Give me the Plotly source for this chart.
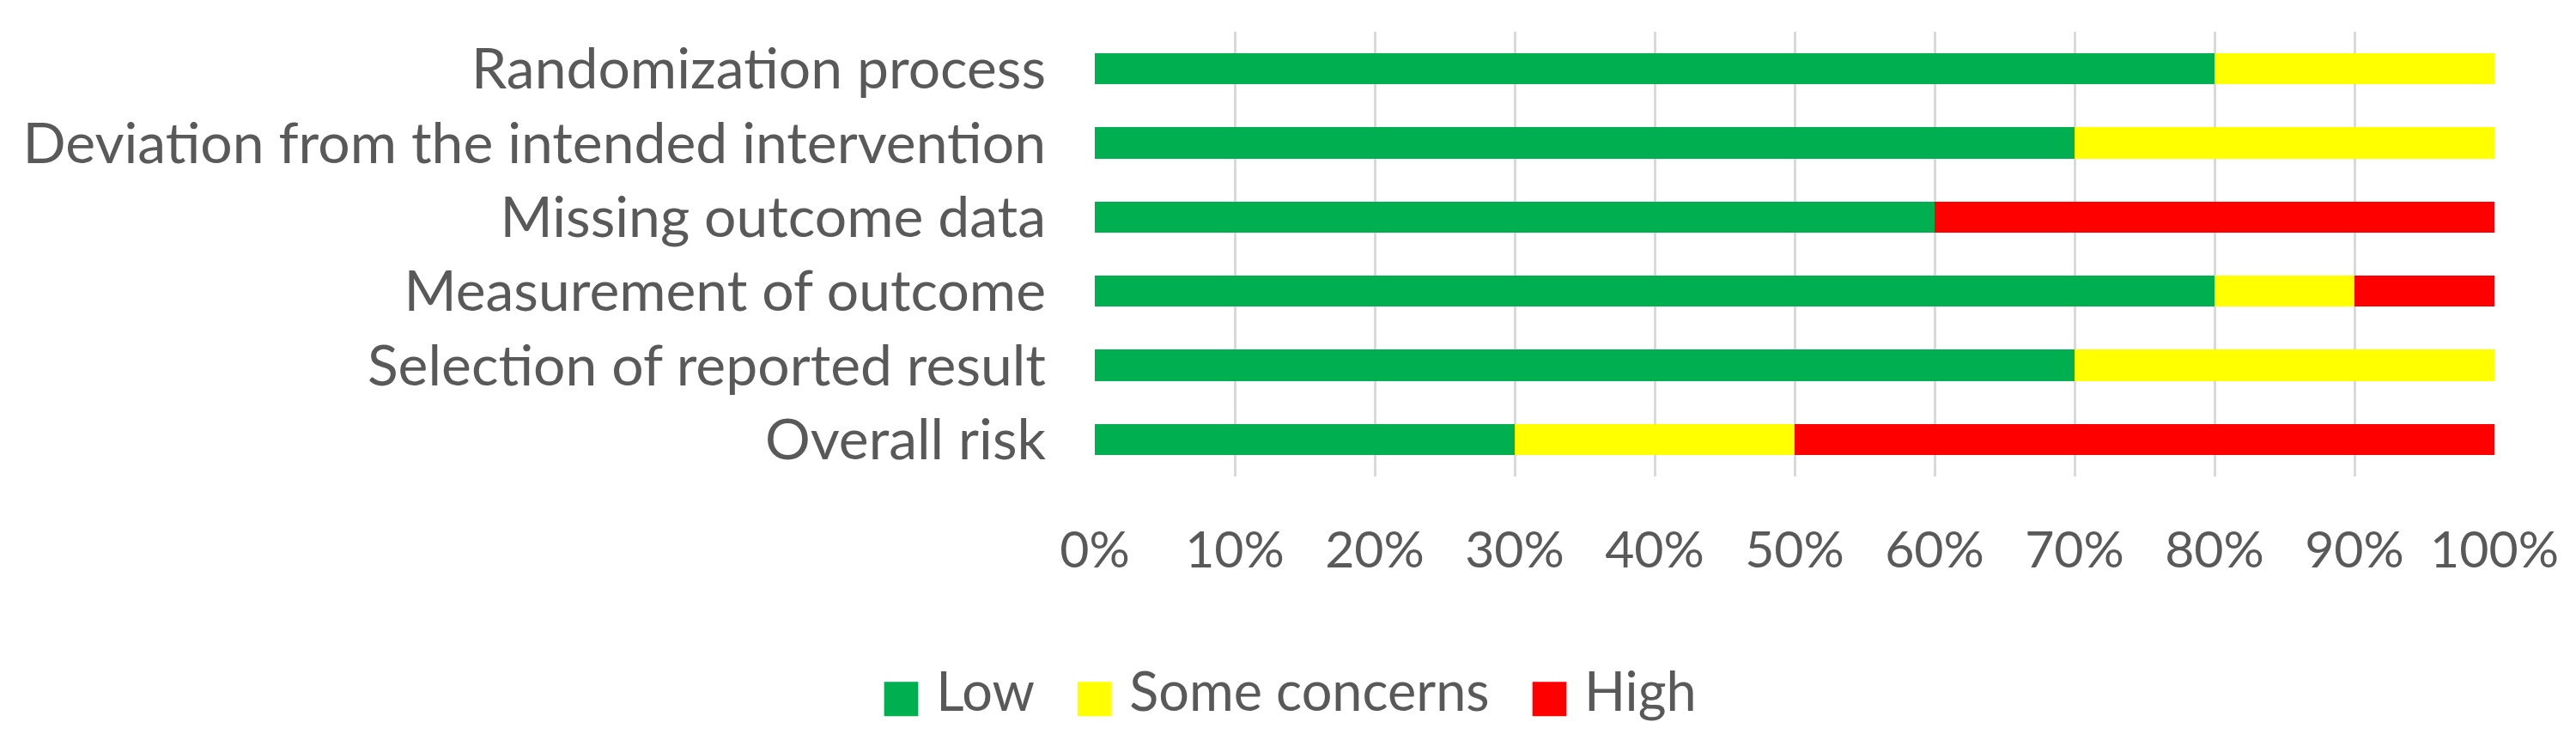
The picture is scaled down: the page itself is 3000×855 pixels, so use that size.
import plotly.graph_objects as go

categories = [
    "Randomization process",
    "Deviation from the intended intervention",
    "Missing outcome data",
    "Measurement of outcome",
    "Selection of reported result",
    "Overall risk",
]
low = [80, 70, 60, 80, 70, 30]
some_concerns = [20, 30, 0, 10, 30, 20]
high = [0, 0, 40, 10, 0, 50]
tick_values = [0, 10, 20, 30, 40, 50, 60, 70, 80, 90, 100]
tick_labels = [f"{v}%" for v in tick_values]

series = [
    ("Low", low, "#00B050"),
    ("Some concerns", some_concerns, "#FFFF00"),
    ("High", high, "#FF0000"),
]

FONT = "Lato"
TXT = "#595959"

fig = go.Figure()
for name, vals, color in series:
    fig.add_trace(go.Bar(
        y=categories, x=vals, name=name, orientation="h",
        marker=dict(color=color, line=dict(width=0)),
        showlegend=False, hoverinfo="x+y+name",
    ))
# legend entries: large colored square glyph + label
for name, vals, color in series:
    fig.add_trace(go.Bar(
        y=[None], x=[None], orientation="h",
        name=f'<span style="color:{color};font-family:DejaVu Sans;font-size:52px">■</span> {name}',
        marker=dict(color="rgba(0,0,0,0)", line=dict(width=0)),
        showlegend=True,
    ))

fig.update_layout(
    width=3000, height=855,
    barmode="stack", bargap=0.58,
    plot_bgcolor="white", paper_bgcolor="white",
    margin=dict(l=1267, r=103, t=29, b=305, pad=0),
    font=dict(family=FONT, size=60, color=TXT),
    legend=dict(
        orientation="h", traceorder="normal",
        x=-0.178, xanchor="left", y=-0.48, yanchor="middle",
        font=dict(family=FONT, size=63, color=TXT),
        itemwidth=30, tracegroupgap=0,
    ),
    showlegend=True,
)
fig.update_xaxes(
    range=[0, 100], tickvals=tick_values, ticktext=tick_labels,
    showgrid=True, gridcolor="#D9D9D9", gridwidth=3,
    zeroline=False, showline=False, ticks="",
    tickfont=dict(family=FONT, size=59, color=TXT),
    ticklabelstandoff=46, fixedrange=True,
)
fig.update_yaxes(
    autorange="reversed", showgrid=False, zeroline=False,
    showline=False, ticks="",
    tickfont=dict(family=FONT, size=66, color=TXT),
    ticklabelstandoff=56, fixedrange=True,
)

fig.write_html("out.html")
